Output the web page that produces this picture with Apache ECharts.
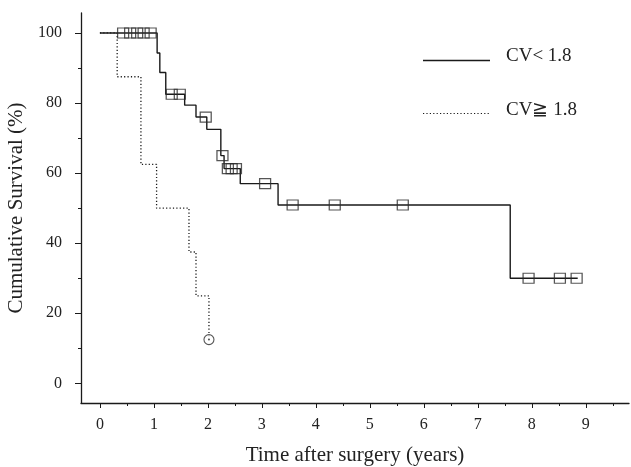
<!DOCTYPE html>
<html><head><meta charset="utf-8">
<script src="https://cdn.jsdelivr.net/npm/echarts@6/dist/echarts.min.js"></script>
<style>html,body{margin:0;padding:0;background:#fff}#c{width:631px;height:467px}</style>
</head><body><div id="c"></div>
<script>
const xTicks = [0,1,2,3,4,5,6,7,8,9];
const xMinorTicks = [0.5,1.5,2.5,3.5,4.5,5.5,6.5,7.5,8.5,9.5];
const yTicks = [0,20,40,60,80,100];
const yMinorTicks = [10,30,50,70,90];

const lowTimes = [0,1.06,1.11,1.22,1.57,1.78,1.98,2.24,2.3,2.6,3.3,7.6,8.85];
const lowSurv  = [100,94.3,88.7,82.5,79.4,76,72.5,65,61.3,57,50.9,30,30];
const lowCensorTimes = [0.43,0.56,0.69,0.81,0.94,1.33,1.48,1.96,2.27,2.37,2.44,2.52,3.06,3.57,4.35,5.61,7.94,8.52,8.83];
const lowCensorSurv  = [100,100,100,100,100,82.5,82.5,76,65,61.3,61.3,61.3,57,50.9,50.9,50.9,30,30,30];

const highTimes = [0,0.32,0.76,1.05,1.65,1.78,2.02];
const highSurv  = [100,87.5,62.5,50,37.5,25,12.5];
const highCensorTimes = [2.02];
const highCensorSurv  = [12.5];

const legendNames = ['CV< 1.8','CV\u2267 1.8'];

const pair = (a,b)=>a.map((v,i)=>[v,b[i]]);
const FONT = 'Liberation Serif';
const INK = '#1a1a1a';

const chart = echarts.init(document.getElementById('c'));
const xBase = {type:'value',min:-0.35,max:9.8,splitLine:{show:false},position:'bottom'};
const yBase = {type:'value',min:-5.6,max:105.7,splitLine:{show:false},position:'left'};
chart.setOption({
  backgroundColor:'#fff',
  animation:false,
  grid:{left:81,right:2,top:13,bottom:64,containLabel:false,outerBoundsMode:'none'},
  xAxis:[
    Object.assign({},xBase,{
      axisLine:{onZero:false,lineStyle:{color:INK,width:1.3}},
      axisTick:{customValues:xTicks,length:5,lineStyle:{color:INK}},
      axisLabel:{customValues:xTicks,margin:14,color:'#222',fontFamily:FONT,fontSize:16},
      name:'Time after surgery (years)',nameLocation:'middle',nameGap:42,
      nameTextStyle:{color:'#222',fontFamily:FONT,fontSize:21,verticalAlign:'top'}
    }),
    Object.assign({},xBase,{
      offset:0,
      axisLine:{show:false,onZero:false},
      axisTick:{customValues:xMinorTicks,length:3,lineStyle:{color:INK}},
      axisLabel:{show:false}
    })
  ],
  yAxis:[
    Object.assign({},yBase,{
      axisLine:{onZero:false,lineStyle:{color:INK,width:1.3}},
      axisTick:{customValues:yTicks,length:6,lineStyle:{color:INK}},
      axisLabel:{customValues:yTicks,margin:19,color:'#222',fontFamily:FONT,fontSize:16},
      name:'Cumulative Survival (%)',nameLocation:'middle',nameGap:52,
      nameTextStyle:{color:'#222',fontFamily:FONT,fontSize:21}
    }),
    Object.assign({},yBase,{
      offset:0,
      axisLine:{show:false,onZero:false},
      axisTick:{customValues:yMinorTicks,length:3,lineStyle:{color:INK}},
      axisLabel:{show:false}
    })
  ],
  series:[
    {type:'line',name:legendNames[0],step:'end',symbol:'none',data:pair(lowTimes,lowSurv),
     lineStyle:{color:INK,width:1.4},z:3},
    {type:'line',name:legendNames[1],step:'end',symbol:'none',data:pair(highTimes,highSurv),
     lineStyle:{color:INK,width:1.3,type:[1.2,2.2]},z:2},
    {type:'scatter',symbol:'rect',symbolSize:[11,10],data:pair(lowCensorTimes,lowCensorSurv),
     itemStyle:{color:'rgba(0,0,0,0)',borderColor:'#2a2a2a',borderWidth:1.2},z:4},
    {type:'scatter',symbol:'circle',symbolSize:10,data:pair(highCensorTimes,highCensorSurv),
     itemStyle:{color:'#fff',borderColor:'#2a2a2a',borderWidth:1.1},z:4},
    {type:'scatter',symbol:'circle',symbolSize:2,data:pair(highCensorTimes,highCensorSurv),
     itemStyle:{color:'#2a2a2a'},z:5}
  ],
  graphic:[
    {type:'line',shape:{x1:423,y1:60.5,x2:490,y2:60.5},style:{stroke:INK,lineWidth:1.4}},
    {type:'line',shape:{x1:423,y1:113.5,x2:490,y2:113.5},style:{stroke:INK,lineWidth:1.2,lineDash:[1.2,2.2]}},
    {type:'text',left:506,top:47,style:{text:legendNames[0],fill:'#222',font:'19px "Liberation Serif"'}},
    {type:'text',left:506,top:101,style:{text:legendNames[1],fill:'#222',font:'19px "Liberation Serif"'}}
  ]
});
</script></body></html>
